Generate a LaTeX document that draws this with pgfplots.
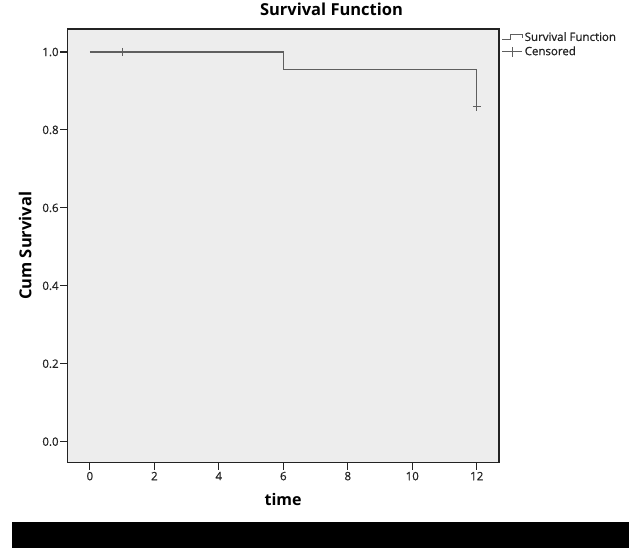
\documentclass[border=0pt]{standalone}
\usepackage{fontspec}
\setmainfont{Open Sans}
\newfontface\tickfont{Open Sans}[FakeBold=0.7]
\usepackage{pgfplots}
\pgfplotsset{compat=1.18}

\definecolor{bgcol}{RGB}{237,237,237}
\definecolor{curvecol}{RGB}{95,95,95}
\definecolor{framecol}{RGB}{35,35,35}

\begin{document}
\begin{tikzpicture}
\useasboundingbox (0pt,0pt) rectangle (629pt,548pt);
\begin{axis}[
    at={(67.3pt,85.3pt)}, anchor=south west,
    scale only axis,
    width=431.7pt, height=433.7pt,
    xmin=-0.7, xmax=12.69,
    ymin=-0.054, ymax=1.059,
    xtick={0,2,...,12},
    ytick={0,0.2,...,1.0},
    yticklabel style={/pgf/number format/fixed, /pgf/number format/fixed zerofill,
                      /pgf/number format/precision=1, inner sep=1.5pt},
    /pgf/number format/assume math mode=true,
    xtick pos=bottom, ytick pos=left,
    tick align=outside,
    major tick length=7pt,
    tick style={framecol, line width=1.1pt},
    axis line style={framecol, line width=1.2pt},
    axis background/.style={fill=bgcol},
    tick label style={font=\tickfont\fontsize{11.5}{13}\selectfont, text=framecol},
    xticklabel style={inner sep=2pt},
    title={\textbf{Survival Function}},
    title style={at={(rel axis cs:0.612,1)}, anchor=base, yshift=7.3pt,
                 font=\fontsize{16.5}{19}\selectfont},
    xlabel={\textbf{time}},
    xlabel style={at={(rel axis cs:0.5,0)}, anchor=base, yshift=-43pt,
                  font=\fontsize{16}{19}\selectfont},
    ylabel={\textbf{Cum Survival}},
    ylabel style={at={([xshift=-42pt]rel axis cs:0,0.5)}, anchor=center,
                  font=\fontsize{16.5}{19}\selectfont},
    legend style={at={(rel axis cs:1,1)}, anchor=north west, xshift=2.7pt, yshift=-1pt,
                  draw=none, fill=none, inner sep=0pt,
                  font=\tickfont\fontsize{11.5}{13}\selectfont, text=framecol,
                  row sep=0pt},
    legend cell align=left,
]
\addplot[const plot, curvecol, line width=1.1pt,
    legend image code/.code={
        \draw[curvecol, line width=0.8pt] (0pt,-2pt) -- (8pt,-2pt) -- (8pt,3pt) -- (20pt,3pt) -- (20pt,-1pt);
    }]
    coordinates {(0,1) (6,0.9545) (12,0.859)};
\addlegendentry{Survival Function}
\addplot[only marks, mark=+, mark size=4pt, curvecol, line width=1.1pt,
    legend image code/.code={
        \draw[curvecol, line width=0.8pt] (0pt,0pt) -- (20pt,0pt);
        \draw[curvecol, line width=0.8pt] (10pt,-5pt) -- (10pt,5pt);
    }]
    coordinates {(1,1) (12,0.859)};
\addlegendentry{Censored}
\end{axis}
\fill[black] (12pt,0pt) rectangle (629pt,26pt);
\end{tikzpicture}
\end{document}
